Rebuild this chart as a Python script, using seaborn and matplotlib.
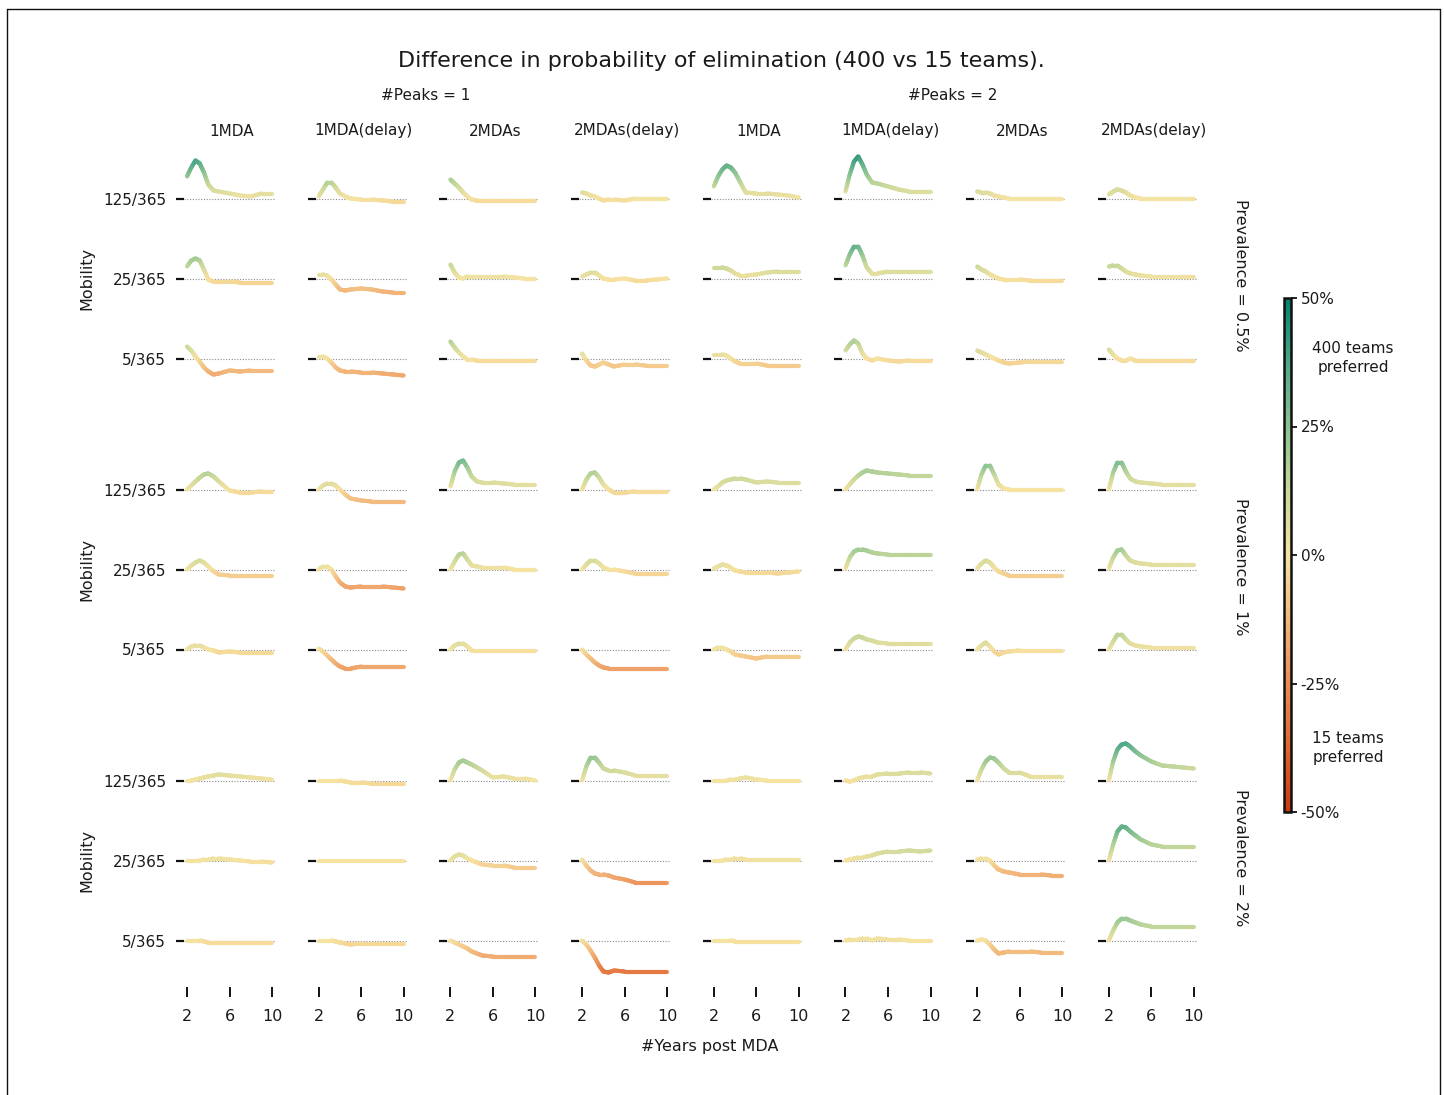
import numpy as np
import pandas as pd
import seaborn as sns
import matplotlib.pyplot as plt
from matplotlib.collections import LineCollection
from matplotlib.colors import Normalize
from matplotlib.cm import ScalarMappable
from matplotlib.lines import Line2D

years = [2, 2.4, 2.8, 3.2, 3.6, 4, 4.5, 5, 6, 7, 8, 9, 10]
scenarios = ['1MDA', '1MDA(delay)', '2MDAs', '2MDAs(delay)']
peaks = ['#Peaks = 1', '#Peaks = 2']
mobility = ['125/365', '25/365', '5/365']
prevalence = ['0.5%', '1%', '2%']

# difference in elimination probability (%), 8 columns: peaks=1 (4 scenarios), peaks=2 (4 scenarios)
prev05_mob125 = [
    [22, 31, 38, 35, 26, 14, 8, 7, 5, 3, 2, 5, 5],
    [2, 9, 16, 16, 11, 5, 2, 0, -1, -1, -2, -3, -3],
    [19, 15, 11, 6, 2, -1, -2, -2, -2, -2, -2, -2, -2],
    [6, 5, 3, 2, 0, -2, -1, -1, -2, 0, 0, 0, 0],
    [12, 22, 29, 33, 31, 26, 16, 6, 5, 5, 4, 3, 1],
    [7, 24, 37, 42, 34, 24, 16, 15, 12, 9, 7, 7, 7],
    [7, 6, 6, 5, 3, 2, 1, 0, 0, 0, 0, 0, 0],
    [4, 7, 9, 8, 6, 3, 1, 0, 0, 0, 0, 0, 0],
]
prev05_mob25 = [
    [12, 18, 20, 18, 9, -1, -3, -3, -3, -4, -4, -4, -4],
    [4, 4, 3, -1, -6, -11, -12, -11, -10, -11, -13, -14, -14],
    [14, 6, 1, 0, 2, 2, 2, 2, 2, 2, 1, 0, 0],
    [2, 4, 6, 6, 3, 0, -1, -1, 0, -2, -2, -1, 0],
    [11, 11, 11, 10, 8, 5, 3, 3, 4, 6, 7, 7, 7],
    [13, 24, 32, 32, 23, 11, 5, 5, 7, 7, 7, 7, 7],
    [12, 9, 7, 4, 2, 0, -1, -1, -1, -2, -2, -2, -2],
    [12, 13, 13, 10, 7, 5, 4, 3, 2, 2, 2, 2, 2],
]
prev05_mob5 = [
    [12, 8, 2, -3, -9, -13, -16, -15, -12, -13, -12, -12, -12],
    [2, 2, 0, -4, -9, -12, -13, -13, -14, -14, -15, -16, -17],
    [17, 11, 6, 2, -1, -1, -2, -2, -2, -2, -2, -2, -2],
    [5, -2, -7, -8, -6, -4, -6, -8, -6, -6, -7, -7, -7],
    [4, 4, 4, 3, 0, -3, -5, -5, -5, -7, -7, -7, -7],
    [8, 14, 18, 15, 5, 0, -2, 0, -2, -3, -2, -2, -2],
    [8, 6, 4, 2, 0, -2, -4, -5, -4, -3, -3, -3, -3],
    [9, 4, 0, -2, -2, 0, -2, -2, -2, -2, -2, -2, -2],
]
prev1_mob125 = [
    [0, 4, 8, 12, 15, 16, 13, 8, -1, -3, -3, -2, -2],
    [0, 4, 6, 6, 4, 0, -5, -9, -11, -12, -12, -12, -12],
    [3, 18, 27, 29, 22, 13, 8, 7, 7, 6, 5, 5, 5],
    [0, 10, 16, 17, 12, 5, 0, -3, -3, -2, -2, -2, -2],
    [0, 3, 7, 9, 10, 11, 11, 10, 7, 8, 7, 7, 7],
    [0, 5, 10, 14, 17, 19, 18, 17, 16, 15, 14, 14, 14],
    [0, 15, 24, 24, 15, 5, 1, 0, 0, 0, 0, 0, 0],
    [0, 17, 27, 27, 18, 11, 8, 7, 6, 5, 5, 5, 5],
]
prev1_mob25 = [
    [0, 4, 7, 9, 7, 3, -2, -5, -6, -6, -6, -6, -6],
    [0, 3, 3, 0, -7, -13, -17, -18, -17, -17, -17, -18, -19],
    [0, 8, 15, 16, 10, 4, 3, 2, 2, 2, 0, 0, 0],
    [0, 5, 9, 9, 6, 2, 0, 0, -2, -4, -4, -4, -4],
    [1, 3, 5, 4, 2, -1, -2, -3, -3, -3, -4, -3, -2],
    [1, 12, 18, 20, 20, 19, 17, 16, 15, 15, 15, 15, 15],
    [1, 6, 9, 7, 2, -2, -4, -6, -6, -6, -6, -6, -6],
    [1, 12, 19, 20, 14, 9, 7, 6, 5, 5, 5, 5, 5],
]
prev1_mob5 = [
    [0, 3, 4, 4, 2, 0, -1, -3, -2, -3, -3, -3, -3],
    [1, -2, -6, -10, -14, -17, -19, -19, -17, -17, -17, -17, -17],
    [0, 4, 6, 6, 3, -1, -1, -1, -1, -1, -1, -1, -1],
    [0, -5, -9, -13, -16, -18, -19, -19, -19, -19, -19, -19, -19],
    [0, 2, 2, 0, -2, -5, -6, -7, -9, -7, -7, -7, -7],
    [0, 7, 11, 13, 12, 10, 9, 7, 6, 6, 6, 6, 6],
    [0, 4, 7, 3, -2, -5, -3, -2, -1, -1, -1, -1, -1],
    [0, 8, 15, 15, 10, 6, 4, 3, 2, 2, 2, 2, 2],
]
prev2_mob125 = [
    [0, 0, 1, 2, 3, 4, 5, 6, 5, 4, 3, 2, 1],
    [0, 0, 0, 0, 0, 0, -1, -2, -2, -3, -3, -3, -3],
    [0, 11, 18, 20, 18, 16, 13, 10, 3, 4, 2, 2, 0],
    [0, 14, 23, 23, 18, 12, 10, 10, 8, 5, 5, 5, 5],
    [0, 0, 0, 0, 1, 1, 2, 3, 1, 0, 0, 0, 0],
    [0, -1, 0, 2, 3, 4, 4, 6, 7, 7, 8, 8, 7],
    [0, 11, 19, 23, 22, 18, 12, 8, 8, 4, 4, 4, 4],
    [0, 19, 31, 36, 37, 34, 29, 25, 19, 15, 14, 13, 12],
]
prev2_mob25 = [
    [0, 0, 0, 0, 1, 1, 2, 2, 1, 0, -1, -1, -2],
    [0, 0, 0, 0, 0, 0, 0, 0, 0, 0, 0, 0, 0],
    [0, 4, 6, 5, 2, 0, -2, -4, -5, -5, -7, -7, -7],
    [1, -5, -10, -13, -14, -14, -15, -17, -19, -22, -22, -22, -22],
    [0, 0, 0, 1, 1, 2, 2, 1, 1, 1, 1, 1, 1],
    [0, 1, 2, 3, 3, 4, 5, 7, 9, 9, 10, 9, 10],
    [1, 2, 2, 0, -5, -9, -11, -12, -14, -14, -14, -15, -15],
    [0, 16, 29, 34, 33, 29, 25, 21, 16, 14, 14, 14, 14],
]
prev2_mob5 = [
    [0, 0, 0, 0, -1, -2, -2, -2, -2, -2, -2, -2, -2],
    [0, 0, 0, 0, -1, -2, -3, -4, -3, -3, -3, -3, -3],
    [0, -2, -4, -6, -8, -11, -13, -15, -16, -16, -16, -16, -16],
    [0, -4, -10, -17, -25, -31, -32, -30, -31, -31, -31, -31, -31],
    [0, 0, 0, 0, 0, -1, -1, -1, -1, -1, -1, -1, -1],
    [0, 1, 1, 1, 2, 2, 0, 2, 1, 1, 0, 0, 0],
    [0, 1, 0, -4, -9, -13, -12, -11, -11, -11, -12, -12, -12],
    [0, 10, 18, 22, 22, 20, 18, 16, 14, 14, 14, 14, 14],
]

tables = {
    ('0.5%', '125/365'): prev05_mob125, ('0.5%', '25/365'): prev05_mob25, ('0.5%', '5/365'): prev05_mob5,
    ('1%', '125/365'): prev1_mob125, ('1%', '25/365'): prev1_mob25, ('1%', '5/365'): prev1_mob5,
    ('2%', '125/365'): prev2_mob125, ('2%', '25/365'): prev2_mob25, ('2%', '5/365'): prev2_mob5,
}

# long table
rows = []
for (prev, mob), cols in tables.items():
    for c, vals in enumerate(cols):
        for yr, v in zip(years, vals):
            rows.append({'prevalence': prev, 'mobility': mob, 'col': c,
                         'year': yr, 'diff': v / 100.0})
df = pd.DataFrame(rows)

sns.set_style('white')
plt.rcParams['font.family'] = ['DejaVu Sans']
plt.rcParams['text.color'] = '#1a1a1a'
plt.rcParams['xtick.color'] = '#1a1a1a'
plt.rcParams['ytick.color'] = '#1a1a1a'

cmap = sns.blend_palette(['#c93a0e', '#df6630', '#ea8c55', '#f2b87c', '#f6e3a2',
                          '#c9d99b', '#8cc393', '#4ea888', '#03826c'], as_cmap=True)
norm = Normalize(-0.5, 0.5)

W, H = 1444, 1095
fig = plt.figure(figsize=(W / 100, H / 100), dpi=100)


def px_axes(left, top, width, height):
    return fig.add_axes([left / W, 1 - (top + height) / H, width / W, height / H])


offsets = {'125/365': 1.6, '25/365': 0.8, '5/365': 0.0}
base5 = [358.5, 649.5, 940.5]   # pixel row of the 5/365 baseline per block
col_step = 131.7

for b, prev in enumerate(prevalence):
    for c in range(8):
        ax = px_axes(184 + col_step * c, base5[b] - 210, 91, 256)
        ax.set_xlim(1.72, 10.28)
        ax.set_ylim(-0.46, 2.10)
        for s in ax.spines.values():
            s.set_visible(False)
        ax.set_yticks(list(offsets.values()))
        ax.set_yticklabels(list(offsets.keys()) if c == 0 else [])
        ax.tick_params(axis='y', left=True, length=6, width=1.6, pad=7,
                       labelsize=11, color='#111111')
        if b == 2:
            ax.set_xticks([2, 6, 10])
            ax.tick_params(axis='x', bottom=True, length=7, width=1.4, pad=9,
                           labelsize=11.5, color='#111111')
        else:
            ax.set_xticks([])

        for mob, off in offsets.items():
            ax.axhline(off, color='#8a8a8a', lw=0.8, ls=(0, (1, 1.5)), zorder=1)
            sub = df[(df.prevalence == prev) & (df.mobility == mob) & (df.col == c)]
            x = sub['year'].to_numpy()
            v = sub['diff'].to_numpy()
            # split each straight piece finely so the colour can change along it
            xs = np.concatenate([np.linspace(x[i], x[i + 1], 10, endpoint=False) for i in range(len(x) - 1)] + [x[-1:]])
            vs = np.concatenate([np.linspace(v[i], v[i + 1], 10, endpoint=False) for i in range(len(v) - 1)] + [v[-1:]])
            pts = np.column_stack([xs, vs + off]).reshape(-1, 1, 2)
            segs = np.concatenate([pts[:-1], pts[1:]], axis=1)
            lc = LineCollection(segs, cmap=cmap, norm=norm, linewidths=3.0,
                                capstyle='round', joinstyle='round', alpha=0.9, zorder=2)
            lc.set_array((vs[:-1] + vs[1:]) / 2)
            lc.set_clip_on(False)
            ax.add_collection(lc)

    fig.text(87 / W, 1 - (base5[b] - 80) / H, 'Mobility', rotation=90,
             ha='center', va='center', fontsize=11.5)
    fig.text(1240 / W, 1 - (base5[b] - 83) / H, 'Prevalence = ' + prev, rotation=270,
             ha='center', va='center', fontsize=11.5)

# column headers
for c in range(8):
    cx = 184 + col_step * c + 48
    fig.text(cx / W, 1 - 131 / H, scenarios[c % 4], ha='center', va='center', fontsize=11)
for p, cx in zip(peaks, [426, 953]):
    fig.text(cx / W, 1 - 95 / H, p, ha='center', va='center', fontsize=11)

fig.text(721 / W, 1 - 61 / H, 'Difference in probability of elimination (400 vs 15 teams).',
         ha='center', va='center', fontsize=16)
fig.text(710 / W, 1 - 1047 / H, '#Years post MDA', ha='center', va='center', fontsize=11.5)

# colour bar
cax = px_axes(1284, 298, 7, 514)
cb = fig.colorbar(ScalarMappable(norm=norm, cmap=cmap), cax=cax,
                  ticks=[-0.5, -0.25, 0, 0.25, 0.5])
cb.ax.set_yticklabels(['-50%', '-25%', '0%', '25%', '50%'])
cb.ax.tick_params(right=True, length=4, width=1.3, labelsize=11, pad=3, color='#111111')
cb.outline.set_linewidth(1.8)
cb.outline.set_edgecolor('#111111')
fig.text(1353 / W, 1 - 358 / H, '400 teams\npreferred', ha='center', va='center',
         fontsize=11, linespacing=1.4)
fig.text(1348 / W, 1 - 748 / H, '15 teams\npreferred', ha='center', va='center',
         fontsize=11, linespacing=1.4)

# frame around the figure
for xs_, ys_ in [([7, 7], [9, H]), ([7, 1440], [9, 9]), ([1440, 1440], [9, H])]:
    fig.add_artist(Line2D([v / W for v in xs_], [1 - v / H for v in ys_],
                          color='#111111', lw=1.0))

fig.savefig('out.png', dpi=100)
